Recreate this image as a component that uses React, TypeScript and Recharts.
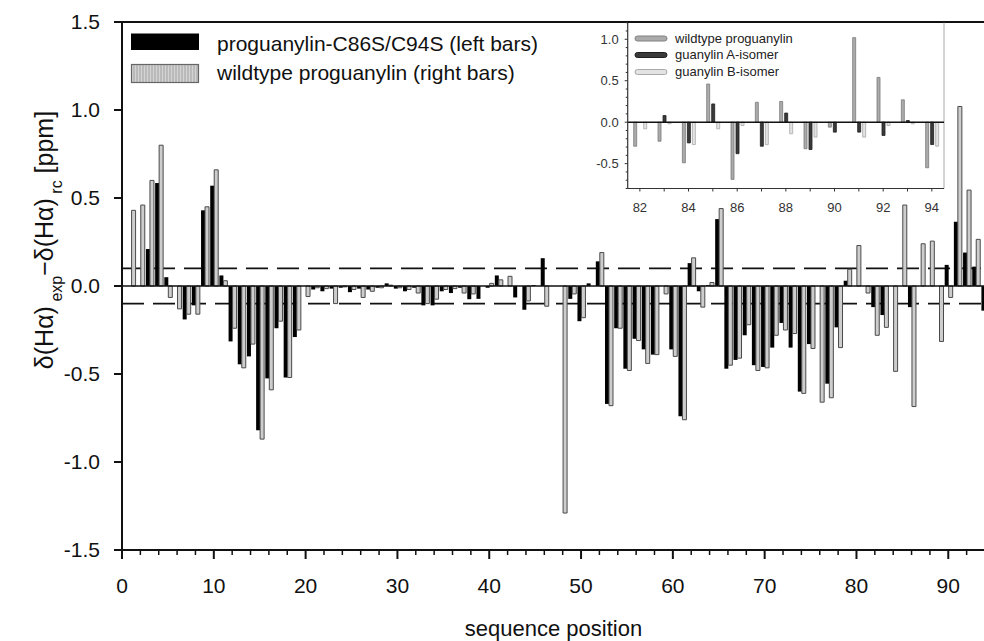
import React from "react";
import { BarChart, Bar, XAxis, YAxis, ReferenceLine, Legend } from "recharts";

// sequence positions 1..94
const positions = [
  1, 2, 3, 4, 5, 6, 7, 8, 9, 10, 11, 12, 13, 14, 15, 16, 17, 18, 19, 20,
  21, 22, 23, 24, 25, 26, 27, 28, 29, 30, 31, 32, 33, 34, 35, 36, 37, 38, 39, 40,
  41, 42, 43, 44, 45, 46, 47, 48, 49, 50, 51, 52, 53, 54, 55, 56, 57, 58, 59, 60,
  61, 62, 63, 64, 65, 66, 67, 68, 69, 70, 71, 72, 73, 74, 75, 76, 77, 78, 79, 80,
  81, 82, 83, 84, 85, 86, 87, 88, 89, 90, 91, 92, 93, 94,
];

// proguanylin-C86S/C94S (left, black bars)
const mutant = [
  null, null, 0.21, 0.585, 0.05, null, -0.19, -0.11, 0.43, 0.57,
  0.06, -0.315, -0.445, -0.4, -0.82, -0.525, -0.24, -0.52, -0.29, null,
  -0.02, -0.03, -0.015, -0.01, -0.035, -0.015, -0.02, -0.01, 0.015, -0.015,
  -0.03, -0.01, -0.11, -0.11, -0.03, -0.04, -0.01, -0.075, -0.073, -0.01,
  0.06, null, -0.065, -0.135, 0.005, 0.158, null, null, -0.073, -0.2,
  0.015, 0.14, -0.67, -0.24, -0.47, -0.3, -0.36, -0.39, null, -0.36,
  -0.74, 0.13, -0.03, 0.005, 0.38, -0.47, -0.42, -0.28, -0.45, -0.46,
  -0.35, -0.21, -0.35, -0.6, -0.33, null, -0.555, -0.235, 0.03, null,
  null, -0.12, -0.165, null, null, -0.12, null, null, null, 0.12,
  0.365, 0.19, 0.11, -0.14,
];

// wildtype proguanylin (right, grey bars)
const wildtype = [
  0.43, 0.46, 0.6, 0.8, -0.065, -0.13, -0.16, -0.16, 0.45, 0.66,
  0.03, -0.24, -0.465, -0.33, -0.87, -0.59, -0.2, -0.52, -0.25, -0.06,
  -0.01, -0.015, -0.1, -0.005, -0.02, -0.065, -0.03, -0.01, 0.005, -0.01,
  -0.02, -0.04, -0.1, -0.075, -0.02, -0.015, -0.04, -0.045, null, 0.015,
  0.035, 0.055, null, -0.085, null, -0.115, null, -1.29, -0.045, -0.18,
  null, 0.19, -0.68, -0.24, -0.48, -0.31, -0.44, -0.39, -0.045, -0.4,
  -0.76, 0.16, -0.12, 0.02, 0.44, -0.45, -0.41, -0.22, -0.48, -0.465,
  -0.28, -0.25, -0.27, -0.61, -0.355, -0.66, -0.635, -0.35, 0.095, 0.23,
  -0.04, -0.28, -0.235, -0.485, 0.46, -0.685, 0.24, 0.255, -0.315, -0.065,
  1.02, 0.545, 0.265, -0.55,
];

// inset: C-terminal region
const insetPositions = [82, 83, 84, 85, 86, 87, 88, 89, 90, 91, 92, 93, 94];
const insetWildtype = [-0.29, -0.23, -0.49, 0.46, -0.69, 0.24, 0.25, -0.32, -0.06, 1.02, 0.54, 0.27, -0.55];
const insetIsomerA = [null, 0.08, -0.25, 0.22, -0.38, -0.29, 0.11, -0.33, -0.12, -0.12, -0.16, 0.02, -0.27];
const insetIsomerB = [-0.08, -0.02, -0.27, -0.08, -0.04, -0.27, -0.14, -0.18, null, -0.18, -0.04, -0.02, -0.29];

const mainXTicks = [
  0, 2, 4, 6, 8, 10, 12, 14, 16, 18, 20, 22, 24, 26, 28, 30, 32, 34, 36, 38, 40,
  42, 44, 46, 48, 50, 52, 54, 56, 58, 60, 62, 64, 66, 68, 70, 72, 74, 76, 78, 80,
  82, 84, 86, 88, 90, 92, 94,
];
const mainYTicks = [-1.5, -1, -0.5, 0, 0.5, 1, 1.5];
const insetXTicks = [82, 83, 84, 85, 86, 87, 88, 89, 90, 91, 92, 93, 94];
const insetYTicks = [
  -0.8, -0.7, -0.6, -0.5, -0.4, -0.3, -0.2, -0.1, 0, 0.1, 0.2, 0.3, 0.4, 0.5,
  0.6, 0.7, 0.8, 0.9, 1, 1.1, 1.2,
];

const mainData = positions.map((pos, i) => ({
  pos,
  mutant: mutant[i],
  wildtype: wildtype[i],
}));

const insetData = insetPositions.map((pos, i) => ({
  pos,
  wild: insetWildtype[i],
  isoA: insetIsomerA[i],
  isoB: insetIsomerB[i],
}));

const FONT = "'Liberation Sans', Arial, Helvetica, sans-serif";

const MainXTick = (props: any) => {
  const { x, y, payload } = props;
  const v = payload.value;
  const major = v % 10 === 0;
  return (
    <g>
      <line x1={x} x2={x} y1={y} y2={y + (major ? 9 : 5)} stroke="#111" strokeWidth={major ? 2 : 1.5} />
      {major && (
        <text x={x} y={y + 43} textAnchor="middle" fontSize={21} fill="#111">
          {v}
        </text>
      )}
    </g>
  );
};

const InsetXTick = (props: any) => {
  const { x, y, payload } = props;
  const v = payload.value;
  return (
    <g>
      <line x1={x} x2={x} y1={y} y2={y + 3} stroke="#333" strokeWidth={1} />
      {v % 2 === 0 && (
        <text x={x} y={y + 23} textAnchor="middle" fontSize={13} fill="#333">
          {v}
        </text>
      )}
    </g>
  );
};

const InsetYTick = (props: any) => {
  const { x, y, payload } = props;
  const v = payload.value;
  const major = Math.abs(v * 2 - Math.round(v * 2)) < 1e-6;
  return (
    <g>
      <line x1={x} x2={x - (major ? 3 : 2)} y1={y} y2={y} stroke="#333" strokeWidth={1} />
      {major && (
        <text x={x - 9} y={y} dy="0.36em" textAnchor="end" fontSize={13} fill="#333">
          {v.toFixed(1)}
        </text>
      )}
    </g>
  );
};

const YTitle = () => (
  <text transform="translate(53, 240) rotate(-90)" textAnchor="middle" fontSize={25} fill="#111">
    δ(Hα)
    <tspan fontSize={16} dy={9}> exp</tspan>
    <tspan dy={-9}>−δ(Hα)</tspan>
    <tspan fontSize={16} dy={9}> rc</tspan>
    <tspan dy={-9}> [ppm]</tspan>
  </text>
);

const XTitle = () => (
  <text x={553.5} y={636} textAnchor="middle" fontSize={22} fill="#111">
    sequence position
  </text>
);

const MainLegend = () => (
  <svg width={420} height={60} style={{ display: "block", fontFamily: FONT }}>
    <defs>
      <pattern id="vhatch" width={3} height={4} patternUnits="userSpaceOnUse">
        <rect width={3} height={4} fill="#d4d4d4" />
        <line x1={1} x2={1} y1={0} y2={4} stroke="#a0a0a0" strokeWidth={1} />
      </pattern>
    </defs>
    <rect x={1} y={3.5} width={68} height={16.5} fill="#000" />
    <text x={87} y={21} fontSize={21} fill="#111">proguanylin-C86S/C94S (left bars)</text>
    <rect x={1.5} y={34.5} width={67} height={18} fill="url(#vhatch)" stroke="#666" strokeWidth={1.2} />
    <text x={87} y={50} fontSize={21} fill="#111">wildtype proguanylin (right bars)</text>
  </svg>
);

const InsetLegend = () => (
  <svg width={200} height={50} style={{ display: "block", fontFamily: FONT }}>
    <rect x={3} y={6} width={32} height={5} rx={2.5} fill="#ababab" stroke="#808080" />
    <text x={43} y={12.5} fontSize={13} fill="#222">wildtype proguanylin</text>
    <rect x={3} y={22.5} width={32} height={5} rx={2.5} fill="#3a3a3a" stroke="#1e1e1e" />
    <text x={43} y={29} fontSize={13} fill="#222">guanylin A-isomer</text>
    <rect x={3} y={39.5} width={32} height={5} rx={2.5} fill="#e3e3e3" stroke="#a8a8a8" />
    <text x={43} y={46} fontSize={13} fill="#222">guanylin B-isomer</text>
  </svg>
);

export default function App() {
  return (
    <div
      style={{
        position: "absolute",
        left: 0,
        top: 0,
        width: 984,
        height: 641,
        overflow: "hidden",
        background: "#fff",
        fontFamily: FONT,
      }}
    >
      <div style={{ position: "absolute", left: 0, top: 0 }}>
        <BarChart
          width={1000}
          height={641}
          data={mainData}
          margin={{ top: 22, right: 15, left: 0, bottom: 0 }}
          barGap={0}
        >
          <XAxis
            type="number"
            dataKey="pos"
            domain={[0, 94]}
            ticks={mainXTicks}
            interval={0}
            height={91}
            tickSize={0}
            tickMargin={0}
            tickLine={false}
            axisLine={{ stroke: "#111", strokeWidth: 2 }}
            tick={(p: any) => <MainXTick {...p} />}
            label={{ content: () => <XTitle /> }}
          />
          <YAxis
            type="number"
            domain={[-1.5, 1.5]}
            ticks={mainYTicks}
            interval={0}
            width={122}
            tickSize={8}
            tickMargin={14}
            tickLine={{ stroke: "#111", strokeWidth: 2 }}
            axisLine={{ stroke: "#111", strokeWidth: 2 }}
            tick={{ fontSize: 21, fill: "#111" }}
            tickFormatter={(v: number) => v.toFixed(1)}
            label={{ content: () => <YTitle /> }}
          />
          <ReferenceLine y={1.5} stroke="#111" strokeWidth={2} />
          <ReferenceLine y={0.1} stroke="#111" strokeWidth={1.6} strokeDasharray="22 9" zIndex={100} />
          <ReferenceLine y={-0.1} stroke="#111" strokeWidth={1.6} strokeDasharray="22 9" zIndex={100} />
          <Legend
            layout="vertical"
            align="center"
            verticalAlign="middle"
            content={() => <MainLegend />}
            wrapperStyle={{ left: 130, top: 30, width: 420, height: 60 }}
          />
          <Bar
            dataKey="mutant"
            name="proguanylin-C86S/C94S (left bars)"
            fill="#000"
            barSize={4}
            isAnimationActive={false}
          />
          <Bar
            dataKey="wildtype"
            name="wildtype proguanylin (right bars)"
            fill="#cdcdcd"
            stroke="#4a4a4a"
            strokeWidth={1}
            barSize={4}
            isAnimationActive={false}
          />
          <ReferenceLine y={0} stroke="#111" strokeWidth={1.6} />
        </BarChart>
      </div>

      <div style={{ position: "absolute", left: 560, top: 0 }}>
        <BarChart
          width={400}
          height={230}
          data={insetData}
          margin={{ top: 22.7, right: 16, left: 0, bottom: 0 }}
          barGap={2}
        >
          <XAxis
            type="number"
            dataKey="pos"
            domain={[81.5, 94.5]}
            ticks={insetXTicks}
            interval={0}
            height={41.5}
            tickSize={0}
            tickMargin={0}
            tickLine={false}
            axisLine={{ stroke: "#333", strokeWidth: 1.2 }}
            tick={(p: any) => <InsetXTick {...p} />}
          />
          <YAxis
            type="number"
            domain={[-0.8, 1.2]}
            ticks={insetYTicks}
            interval={0}
            width={67.7}
            tickSize={0}
            tickMargin={0}
            tickLine={false}
            axisLine={{ stroke: "#333", strokeWidth: 1.2 }}
            tick={(p: any) => <InsetYTick {...p} />}
          />
          <ReferenceLine x={94.5} stroke="#aaa" strokeWidth={1} />
          <Legend
            layout="vertical"
            align="center"
            verticalAlign="middle"
            content={() => <InsetLegend />}
            wrapperStyle={{ left: 72, top: 30, width: 200, height: 50 }}
          />
          <Bar dataKey="wild" name="wildtype proguanylin" fill="#ababab" stroke="#7a7a7a" strokeWidth={0.8} barSize={3} isAnimationActive={false} />
          <Bar dataKey="isoA" name="guanylin A-isomer" fill="#3a3a3a" stroke="#1e1e1e" strokeWidth={0.8} barSize={3} isAnimationActive={false} />
          <Bar dataKey="isoB" name="guanylin B-isomer" fill="#e3e3e3" stroke="#a8a8a8" strokeWidth={0.8} barSize={3} isAnimationActive={false} />
          <ReferenceLine y={0} stroke="#111" strokeWidth={1.6} />
        </BarChart>
      </div>
    </div>
  );
}
